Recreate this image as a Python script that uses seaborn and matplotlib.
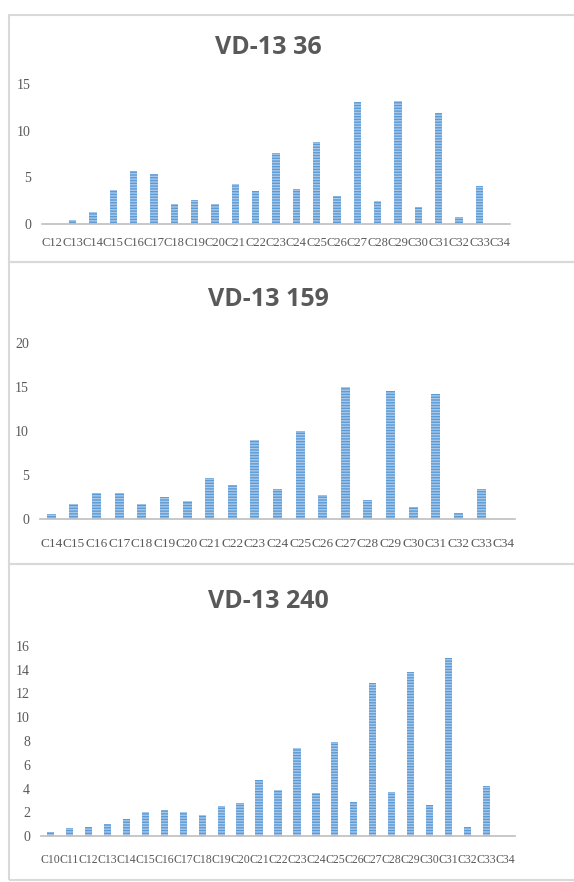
import matplotlib
matplotlib.use("Agg")
import matplotlib.pyplot as plt
import seaborn as sns
from matplotlib.patches import Rectangle

sns.set_style("white")

# data
titles = ["VD-13 36", "VD-13 159", "VD-13 240"]

cats_36 = ["C%d" % i for i in range(12, 35)]
vals_36 = [0, 0.4, 1.25, 3.65, 5.7, 5.35, 2.1, 2.55, 2.1, 4.3, 3.55, 7.6, 3.75,
           8.8, 3.0, 13.1, 2.45, 13.15, 1.8, 11.9, 0.8, 4.1, 0]

cats_159 = ["C%d" % i for i in range(14, 35)]
vals_159 = [0.6, 1.75, 3.0, 3.0, 1.75, 2.45, 2.1, 4.7, 3.9, 9.0, 3.45, 10.05,
            2.75, 15.05, 2.2, 14.5, 1.4, 14.15, 0.7, 3.45, 0]

cats_240 = ["C%d" % i for i in range(10, 35)]
vals_240 = [0.35, 0.65, 0.75, 1.0, 1.45, 2.05, 2.15, 2.05, 1.8, 2.5, 2.8, 4.7,
            3.9, 7.4, 3.6, 7.9, 2.9, 12.9, 3.7, 13.85, 2.6, 14.95, 0.8, 4.2, 0]

yticks = [[0, 5, 10, 15], [0, 5, 10, 15, 20], [0, 2, 4, 6, 8, 10, 12, 14, 16]]

W, H = 574, 882
fig = plt.figure(figsize=(W / 100, H / 100), dpi=100)

bar_color = "#5b9bd5"
text_gray = "#595959"

# axes boxes in pixels: left, right, zero line, top of y range
boxes = [(42, 510, 224, 84), (40, 515, 519, 343), (41, 515, 836, 646)]
frames = [(15, 262), (262, 564), (564, 880)]
title_y = [47, 300, 602]
widths = [0.36, 0.4, 0.38]
xsize = [9, 9.5, 8.5]
xpad = [9, 14, 13]

for k, (cats, vals) in enumerate([(cats_36, vals_36), (cats_159, vals_159), (cats_240, vals_240)]):
    l, r, z, t = boxes[k]
    ax = fig.add_axes([l / W, 1 - z / H, (r - l) / W, (z - t) / H])
    sns.barplot(x=cats, y=vals, color=bar_color, width=widths[k], ax=ax,
                saturation=1)
    for p in ax.patches:
        p.set_hatch("------")
        p.set_edgecolor("#a8c8ea")
        p.set_linewidth(0)
    ax.set_xlim(-0.5, len(cats) - 0.5)
    ax.set_ylim(0, yticks[k][-1])
    ax.set_yticks(yticks[k])
    for s in ["top", "right", "left"]:
        ax.spines[s].set_visible(False)
    ax.spines["bottom"].set_color("#bfbfbf")
    ax.spines["bottom"].set_linewidth(1.2)
    ax.tick_params(axis="both", length=0, colors=text_gray, labelsize=10)
    ax.tick_params(axis="x", pad=xpad[k], labelsize=xsize[k])
    ax.tick_params(axis="y", pad=8)
    for lab in ax.get_xticklabels() + ax.get_yticklabels():
        lab.set_family("Liberation Serif")
    ax.set_facecolor("none")

    fig.text(268 / W, 1 - title_y[k] / H, titles[k], ha="center", va="center",
             fontsize=18, fontweight="bold", color=text_gray, family="Open Sans")

    y0, y1 = frames[k]
    fig.patches.append(Rectangle((9 / W, 1 - y1 / H), (W + 5 - 9) / W, (y1 - y0) / H,
                                 transform=fig.transFigure, fill=False,
                                 edgecolor="#d9d9d9", linewidth=1.5, zorder=0))

fig.savefig("out.png", dpi=100)
